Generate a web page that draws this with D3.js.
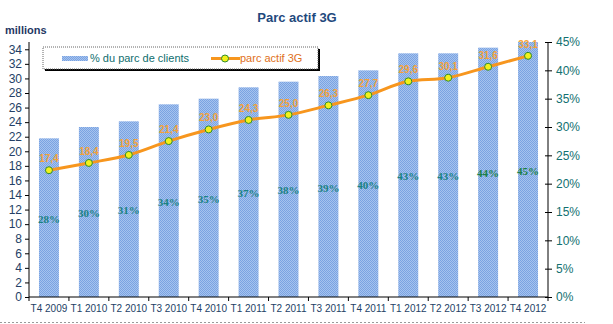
<!DOCTYPE html>
<html><head><meta charset="utf-8">
<script src="https://cdn.jsdelivr.net/npm/d3@7"></script>
<style>body{margin:0;background:#fff;} svg{display:block;font-family:Arial,"Liberation Sans",sans-serif;}</style>
</head><body>
<script>
const categories = ["T4 2009","T1 2010","T2 2010","T3 2010","T4 2010","T1 2011","T2 2011","T3 2011","T4 2011","T1 2012","T2 2012","T3 2012","T4 2012"];
const shareValues = [28,30,31,34,35,37,38,39,40,43,43,44,45];
const activeValues = [17.4,18.4,19.5,21.4,23.0,24.3,25.0,26.3,27.7,29.6,30.1,31.6,33.1];
const leftTicks = [0,2,4,6,8,10,12,14,16,18,20,22,24,26,28,30,32,34];
const rightTicks = [0,5,10,15,20,25,30,35,40,45];

const W=613,H=324;
const m={l:29,r:548,t:42,b:297};
const svg=d3.select("body").append("svg").attr("width",W).attr("height",H);

const defs=svg.append("defs");
const pat=defs.append("pattern").attr("id","dither").attr("patternUnits","userSpaceOnUse").attr("width",2).attr("height",2);
pat.append("rect").attr("width",2).attr("height",2).attr("fill","#A6C3EE");
pat.append("rect").attr("width",1).attr("height",1).attr("fill","#7AA3E2");
pat.append("rect").attr("x",1).attr("y",1).attr("width",1).attr("height",1).attr("fill","#7AA3E2");

const x=d3.scaleBand().domain(categories).range([m.l,m.r]).paddingInner(0.5).paddingOuter(0.25);
const yL=d3.scaleLinear().domain([0,35]).range([m.b,m.t]);
const yR=d3.scaleLinear().domain([0,45]).range([m.b,m.t]);

// title
svg.append("text").attr("x",297).attr("y",22).attr("text-anchor","middle")
  .attr("font-size",13).attr("font-weight","bold").attr("fill","#1F497D").text("Parc actif 3G");
svg.append("text").attr("x",5).attr("y",34).attr("font-size",11).attr("font-weight","bold").attr("fill","#1F3864").text("millions");

// bars
svg.append("g").selectAll("rect").data(shareValues).join("rect")
  .attr("x",(d,i)=>x(categories[i])).attr("width",x.bandwidth())
  .attr("y",d=>yR(d)).attr("height",d=>yR(0)-yR(d)).attr("fill","url(#dither)");

// bar labels
svg.append("g").selectAll("text").data(shareValues).join("text")
  .attr("x",(d,i)=>x(categories[i])+x.bandwidth()/2)
  .attr("y",d=>(yR(d)+yR(0))/2+5)
  .attr("text-anchor","middle").attr("font-family","'Liberation Serif','Times New Roman',serif")
  .attr("font-weight","bold").attr("font-size",11)
  .attr("fill",(d,i)=>i>=11?"#1B8048":"#1A8282").text(d=>d+"%");

// axes
const axL=svg.append("g").attr("transform",`translate(${m.l},0)`)
  .call(d3.axisLeft(yL).tickValues(leftTicks).tickSize(4).tickPadding(3));
axL.select(".domain").attr("d",`M0,${m.b}V${m.t}`).attr("stroke","#000");
axL.selectAll("text").attr("font-size",12).attr("fill","#243F66");
const axR=svg.append("g").attr("transform",`translate(${m.r},0)`)
  .call(d3.axisRight(yR).tickValues(rightTicks).tickSize(4).tickPadding(4).tickFormat(d=>d+"%"));
axR.select(".domain").attr("d",`M0,${m.b}V${m.t}`).attr("stroke","#000");
axR.selectAll("text").attr("font-size",12).attr("fill","#127070");
axR.selectAll(".tick line").attr("x1",-3);

// x axis
const step=x.step();
const gx=svg.append("g");
gx.append("line").attr("x1",m.l).attr("x2",m.r).attr("y1",m.b).attr("y2",m.b).attr("stroke","#000");
gx.selectAll("line.t").data(d3.range(categories.length+1)).join("line").attr("class","t")
  .attr("x1",i=>m.l+i*step).attr("x2",i=>m.l+i*step).attr("y1",m.b).attr("y2",m.b+4).attr("stroke","#000");
gx.selectAll("text").data(categories).join("text")
  .attr("x",d=>x(d)+x.bandwidth()/2).attr("y",312).attr("text-anchor","middle")
  .attr("font-size",10).attr("fill","#243F66").text(d=>d);

// line
const line=d3.line().x((d,i)=>x(categories[i])+x.bandwidth()/2).y(d=>yL(d)).curve(d3.curveMonotoneX);
svg.append("path").datum(activeValues).attr("d",line).attr("fill","none").attr("stroke","#F7961E").attr("stroke-width",3);
svg.append("g").selectAll("circle").data(activeValues).join("circle")
  .attr("cx",(d,i)=>x(categories[i])+x.bandwidth()/2).attr("cy",d=>yL(d)).attr("r",3.5)
  .attr("fill","#F2F21A").attr("stroke","#2E8B2E").attr("stroke-width",1);
svg.append("g").selectAll("text").data(activeValues).join("text")
  .attr("x",(d,i)=>x(categories[i])+x.bandwidth()/2).attr("y",d=>yL(d)-8)
  .attr("text-anchor","middle").attr("font-size",10).attr("font-weight","bold").attr("fill","#F2A23A")
  .text(d=>d.toFixed(1).replace(".",","));

// legend
const lg=svg.append("g");
lg.append("rect").attr("x",45).attr("y",49).attr("width",275).attr("height",22).attr("fill","#000");
lg.append("rect").attr("x",43).attr("y",47).attr("width",275).attr("height",22).attr("fill","#fff").attr("stroke","#666").attr("stroke-dasharray","1,1");
lg.append("rect").attr("x",62).attr("y",56).attr("width",26).attr("height",5).attr("fill","url(#dither)");
lg.append("text").attr("x",90).attr("y",62).attr("font-size",11).attr("fill","#0F6E6E").text("% du parc de clients");
lg.append("line").attr("x1",211).attr("x2",240).attr("y1",58.5).attr("y2",58.5).attr("stroke","#F7961E").attr("stroke-width",3);
lg.append("circle").attr("cx",225).attr("cy",58.5).attr("r",3.5).attr("fill","#F2F21A").attr("stroke","#2E8B2E");
lg.append("text").attr("x",240).attr("y",62).attr("font-size",11).attr("fill","#E0701A").text("parc actif 3G");

// bottom dotted border
svg.append("line").attr("x1",0).attr("x2",585).attr("y1",322.5).attr("y2",322.5).attr("stroke","#999").attr("stroke-dasharray","2,2");
</script>
</body></html>
